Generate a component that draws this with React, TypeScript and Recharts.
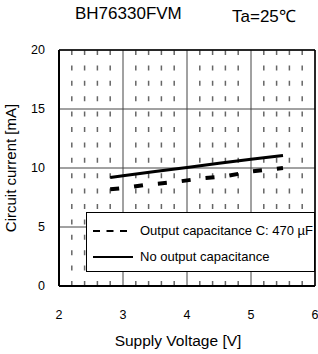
import React from 'react';
import {
  ComposedChart,
  Line,
  XAxis,
  YAxis,
  CartesianGrid,
  ReferenceLine,
} from 'recharts';

// Données (tension en V, courant en mA)
const voltages = [2, 3, 4, 5, 6];
const currentTicks = [0, 5, 10, 15, 20];
const minorVoltages = [
  2.2, 2.4, 2.6, 2.8, 3.2, 3.4, 3.6, 3.8, 4.2, 4.4, 4.6, 4.8, 5.2, 5.4, 5.6, 5.8,
];

const withCapacitor = [
  { v: 2.8, i: 8.2 },
  { v: 3.0, i: 8.3 },
  { v: 3.4, i: 8.6 },
  { v: 3.8, i: 8.8 },
  { v: 4.2, i: 9.1 },
  { v: 4.6, i: 9.3 },
  { v: 5.0, i: 9.7 },
  { v: 5.5, i: 10.0 },
];

const noCapacitor = [
  { v: 2.8, i: 9.2 },
  { v: 3.0, i: 9.35 },
  { v: 3.5, i: 9.7 },
  { v: 4.0, i: 10.05 },
  { v: 4.5, i: 10.4 },
  { v: 5.0, i: 10.75 },
  { v: 5.5, i: 11.05 },
];

const labelWithCap = 'Output capacitance C: 470 µF';
const labelNoCap = 'No output capacitance';

const FONT = '"Liberation Sans", Arial, sans-serif';

const App = () => {
  return (
    <div
      style={{
        position: 'absolute',
        left: 0,
        top: 0,
        width: 318,
        height: 354,
        background: '#fff',
        fontFamily: FONT,
        color: '#000',
      }}
    >
      {/* Titre */}
      <div style={{ position: 'absolute', left: 75, top: 4, fontSize: 17 }}>
        BH76330FVM
      </div>
      <div style={{ position: 'absolute', left: 232, top: 4, fontSize: 17 }}>
        Ta=25℃
      </div>

      <div style={{ position: 'absolute', left: 0, top: 0 }}>
        <ComposedChart
          width={318}
          height={354}
          margin={{ top: 50, right: 3, bottom: 0, left: 0 }}
        >
          <XAxis
            type="number"
            dataKey="v"
            domain={[2, 6]}
            ticks={voltages}
            allowDataOverflow
            height={68}
            tickSize={0}
            tickMargin={24}
            tick={{ fill: '#000', fontSize: 12.5, fontFamily: FONT }}
            axisLine={{ stroke: '#000', strokeWidth: 2 }}
            label={{
              value: 'Supply Voltage [V]',
              position: 'insideBottom',
              offset: 8,
              dx: -9,
              style: { fill: '#000', fontSize: 15.5, fontFamily: FONT },
            }}
          />
          <YAxis
            type="number"
            dataKey="i"
            domain={[0, 20]}
            ticks={currentTicks}
            width={59}
            tickSize={0}
            tickMargin={14}
            tick={{ fill: '#000', fontSize: 12.5, fontFamily: FONT }}
            axisLine={{ stroke: '#000', strokeWidth: 2 }}
            label={{
              value: 'Circuit current [mA]',
              angle: -90,
              position: 'insideLeft',
              offset: 11,
              style: { fill: '#000', fontSize: 15, fontFamily: FONT, textAnchor: 'middle' },
            }}
          />

          {/* Quadrillage secondaire pointillé */}
          {minorVoltages.map((x) => (
            <ReferenceLine
              key={x}
              x={x}
              stroke="#666"
              strokeWidth={1.5}
              strokeDasharray="5 10.4"
            />
          ))}
          <CartesianGrid stroke="#444" strokeWidth={1} />
          <ReferenceLine y={20} stroke="#000" strokeWidth={1.5} />
          <ReferenceLine x={6} stroke="#000" strokeWidth={1.5} />

          <Line
            data={withCapacitor}
            dataKey="i"
            type="linear"
            stroke="#000"
            strokeWidth={4}
            strokeDasharray="9 15"
            dot={false}
            isAnimationActive={false}
          />
          <Line
            data={noCapacitor}
            dataKey="i"
            type="linear"
            stroke="#000"
            strokeWidth={3}
            dot={false}
            isAnimationActive={false}
          />
        </ComposedChart>
      </div>

      {/* Légende */}
      <div
        style={{
          position: 'absolute',
          left: 86,
          top: 212,
          width: 229,
          height: 60,
          boxSizing: 'border-box',
          border: '1px solid #000',
          background: '#fff',
          fontSize: 13,
        }}
      >
        <div style={{ position: 'absolute', left: 6, top: 10, display: 'flex', alignItems: 'center' }}>
          <svg width={40} height={6}>
            <line x1={0} y1={3} x2={40} y2={3} stroke="#000" strokeWidth={2} strokeDasharray="7 6.5" />
          </svg>
          <span style={{ marginLeft: 7, whiteSpace: 'nowrap' }}>{labelWithCap}</span>
        </div>
        <div style={{ position: 'absolute', left: 6, top: 36, display: 'flex', alignItems: 'center' }}>
          <svg width={40} height={6}>
            <line x1={0} y1={3} x2={40} y2={3} stroke="#000" strokeWidth={2} />
          </svg>
          <span style={{ marginLeft: 7, whiteSpace: 'nowrap' }}>{labelNoCap}</span>
        </div>
      </div>
    </div>
  );
};

export default App;
